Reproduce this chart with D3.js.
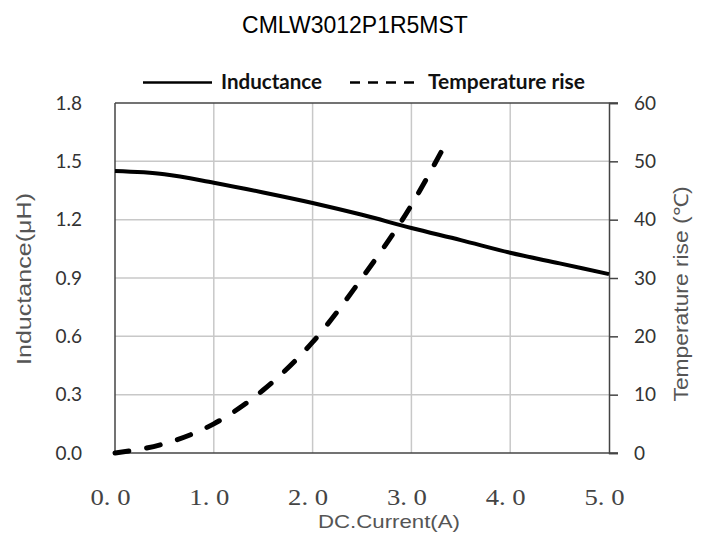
<!DOCTYPE html>
<html><head><meta charset="utf-8">
<script src="https://cdn.jsdelivr.net/npm/d3@7"></script>
<style>body{margin:0;background:#fff}svg{display:block}</style>
</head><body>
<script>
const title = "CMLW3012P1R5MST";
const currentTicks = [0, 1, 2, 3, 4, 5];
const currentTickLabels = ["0. 0", "1. 0", "2. 0", "3. 0", "4. 0", "5. 0"];
const inductanceTicks = [0, 0.3, 0.6, 0.9, 1.2, 1.5, 1.8];
const tempTicks = [0, 10, 20, 30, 40, 50, 60];
const inductanceCurrent = [0, 0.5, 1.0, 1.5, 2.0, 2.5, 3.0, 3.5, 4.0, 4.5, 5.0];
const inductanceValues = [1.45, 1.434, 1.39, 1.34, 1.286, 1.225, 1.157, 1.095, 1.03, 0.975, 0.92];
const tempCurrent = [0, 0.5, 1.0, 1.5, 2.0, 2.5, 3.0, 3.33];
const tempValues = [0, 1.6, 5, 10.8, 19, 30, 42.5, 52.5];

const W = 707, H = 536;
const m = {l:115, r:609, t:103, b:453};
const svg = d3.select("body").append("svg").attr("width", W).attr("height", H);
const x = d3.scaleLinear().domain([0,5]).range([m.l, m.r]);
const yL = d3.scaleLinear().domain([0,1.8]).range([m.b, m.t]);
const yR = d3.scaleLinear().domain([0,60]).range([m.b, m.t]);

svg.append("text").attr("x", 355).attr("y", 33).attr("text-anchor","middle")
  .attr("font-family","Liberation Sans, Arial").attr("font-size",23).attr("fill","#000").text(title);

// gridlines
const grid = svg.append("g").attr("stroke","#c8c8c8").attr("stroke-width",1.5);
grid.selectAll("line.v").data(currentTicks.filter(d=>d>0&&d<5)).join("line")
  .attr("x1",d=>x(d)).attr("x2",d=>x(d)).attr("y1",m.t).attr("y2",m.b);
grid.selectAll("line.h").data(inductanceTicks.filter(d=>d>0&&d<1.8)).join("line")
  .attr("x1",m.l).attr("x2",m.r).attr("y1",d=>yL(d)).attr("y2",d=>yL(d));

// frame
const fr = svg.append("g").attr("stroke","#444").attr("stroke-width",1.5);
fr.append("line").attr("x1",m.l).attr("x2",m.r+9).attr("y1",m.t).attr("y2",m.t);
fr.append("line").attr("x1",m.l).attr("x2",m.r+9).attr("y1",m.b).attr("y2",m.b);
fr.append("line").attr("x1",m.l).attr("x2",m.l).attr("y1",m.t).attr("y2",m.b);

// right axis
const rAxis = svg.append("g").attr("transform",`translate(${m.r},0)`)
  .call(d3.axisRight(yR).tickValues(tempTicks).tickSize(9).tickPadding(16).tickFormat(d3.format("d")));
rAxis.select(".domain").attr("stroke","#444").attr("stroke-width",1.5);
rAxis.selectAll(".tick line").attr("stroke","#444").attr("stroke-width",1.5);
rAxis.selectAll("text").attr("font-family","Lato, Open Sans, sans-serif").attr("font-size",19).attr("fill","#333");

// left axis
const lAxis = svg.append("g").attr("transform",`translate(${m.l},0)`)
  .call(d3.axisLeft(yL).tickValues(inductanceTicks).tickSize(0).tickPadding(33).tickFormat(d3.format(".1f")));
lAxis.select(".domain").remove();
lAxis.selectAll("text").attr("font-family","Lato, Open Sans, sans-serif").attr("font-size",19).attr("fill","#333");

// bottom axis
const bAxis = svg.append("g").attr("transform",`translate(-5,${m.b})`)
  .call(d3.axisBottom(x).tickValues(currentTicks).tickSize(0).tickPadding(35).tickFormat((d,i)=>currentTickLabels[i]));
bAxis.select(".domain").remove();
bAxis.selectAll("text").attr("font-family","Liberation Serif, DejaVu Serif, serif").attr("font-size",24)
  .attr("fill","#444").attr("textLength",40).attr("lengthAdjust","spacingAndGlyphs");

// axis titles
const tf = "Liberation Sans, Arial";
svg.append("text").attr("x",389).attr("y",528).attr("text-anchor","middle")
  .attr("font-family",tf).attr("font-size",19).attr("fill","#555")
  .attr("textLength",142).attr("lengthAdjust","spacingAndGlyphs").text("DC.Current(A)");
svg.append("text").attr("transform","translate(31,279) rotate(-90)").attr("text-anchor","middle")
  .attr("font-family",tf).attr("font-size",19.5).attr("fill","#555")
  .attr("textLength",172).attr("lengthAdjust","spacingAndGlyphs").text("Inductance(μH)");
svg.append("text").attr("transform","translate(688,294) rotate(-90)").attr("text-anchor","middle")
  .attr("font-family",tf).attr("font-size",19.5).attr("fill","#555")
  .attr("textLength",215).attr("lengthAdjust","spacingAndGlyphs").text("Temperature rise (℃)");

// lines
const lineL = d3.line().x(d=>x(d[0])).y(d=>yL(d[1])).curve(d3.curveMonotoneX);
const lineR = d3.line().x(d=>x(d[0])).y(d=>yR(d[1])).curve(d3.curveMonotoneX);
svg.append("path").datum(d3.zip(inductanceCurrent, inductanceValues)).attr("d",lineL)
  .attr("fill","none").attr("stroke","#000").attr("stroke-width",4);
svg.append("path").datum(d3.zip(tempCurrent, tempValues)).attr("d",lineR)
  .attr("fill","none").attr("stroke","#000").attr("stroke-width",5)
  .attr("stroke-linecap","round").attr("stroke-dasharray","14,18");

// legend
const lg = svg.append("g");
lg.append("line").attr("x1",143).attr("x2",212).attr("y1",82.5).attr("y2",82.5).attr("stroke","#000").attr("stroke-width",2.5);
lg.append("text").attr("x",221).attr("y",89).attr("font-family","Lato, Open Sans, sans-serif").attr("font-weight",700)
  .attr("font-size",20.5).attr("fill","#111").attr("textLength",101).attr("lengthAdjust","spacingAndGlyphs").text("Inductance");
lg.append("line").attr("x1",350).attr("x2",415).attr("y1",82.5).attr("y2",82.5).attr("stroke","#000").attr("stroke-width",2.5)
  .attr("stroke-dasharray","10,8");
lg.append("text").attr("x",428).attr("y",89).attr("font-family","Lato, Open Sans, sans-serif").attr("font-weight",700)
  .attr("font-size",20.5).attr("fill","#111").attr("textLength",157).attr("lengthAdjust","spacingAndGlyphs").text("Temperature rise");
</script>
</body></html>
